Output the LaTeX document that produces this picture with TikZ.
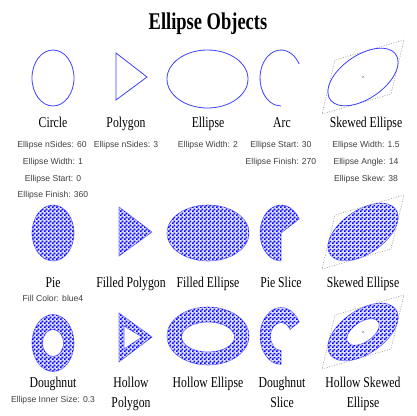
\documentclass[tikz,border=0pt]{standalone}
\usepackage{fontspec}
\setmainfont{Liberation Serif}
\setsansfont{Liberation Sans}
\usetikzlibrary{patterns}
\newcommand{\narrow}[1]{\scalebox{0.78}[1]{#1}}
% fine checkerboard
\pgfdeclarepatternformonly{finecheck}{\pgfpointorigin}{\pgfqpoint{4pt}{4pt}}{\pgfqpoint{4pt}{4pt}}{%
    \pgfpathrectangle{\pgfpointorigin}{\pgfqpoint{2pt}{2pt}}%
    \pgfpathrectangle{\pgfqpoint{2pt}{2pt}}{\pgfqpoint{2pt}{2pt}}%
    \pgfusepath{fill}}

\begin{document}
\begin{tikzpicture}[x=1pt, y=-1pt,
    headline/.style={font=\fontsize{24}{24}\selectfont\bfseries, anchor=base, inner sep=0pt},
    objname/.style={font=\fontsize{15}{20}\selectfont, anchor=base, inner sep=0pt},
    infotxt/.style={font=\sffamily\fontsize{8.6}{10}\selectfont, text=black!75, anchor=base, inner sep=0pt},
    outl/.style={draw=blue!75, line width=0.8pt},
    chk/.style={fill=blue!12, postaction={pattern=finecheck, pattern color=blue}, draw=blue!55, line width=0.6pt},
    hol/.style={chk, even odd rule},
    skewframe/.style={shift={#1}, x={(34.5pt,10pt)}, y={(6.5pt,27pt)}},
    bbox/.style={draw=black!45, dash pattern=on 1pt off 1.5pt, line width=0.5pt}]
    \useasboundingbox[fill=white] (0,0) rectangle (416,416);

    % Title
    \node[headline] (title) at (208,29) {\scalebox{0.77}[1]{Ellipse Objects}};

    % --- Row 1: outlines ---
    \draw[outl] (53,78) circle[x radius=21, y radius=28];
    \draw[outl] (116,53) -- (116,100) -- (147,77) -- cycle;
    \draw[outl] (207.5,79) circle[x radius=40.5, y radius=29];
    \draw[outl] (281,78) ++(-30:21 and 28) arc[start angle=-30, end angle=-270, x radius=21, y radius=28];
    \begin{scope}[skewframe={(363,77)}]
        \draw[bbox] (-1,-1) -- (1,-1) -- (1,1) -- (-1,1) -- cycle;
        \draw[outl] (0,0) circle[radius=1];
        \fill[black!50] (0,0) circle[radius=0.03];
    \end{scope}

    \node[objname] (circ) at (53,127) {\narrow{Circle}};
    \node[objname] (poly) at (126,127) {\narrow{Polygon}};
    \node[objname] (ell) at (208,127) {\narrow{Ellipse}};
    \node[objname] (arc) at (282,127) {\narrow{Arc}};
    \node[objname] (skew) at (366,127) {\narrow{Skewed Ellipse}};

    % Parameters
    \node[infotxt] (circA) at (52,147) {Ellipse nSides: 60};
    \node[infotxt] (circB) at (53,164) {Ellipse Width: 1};
    \node[infotxt] (circC) at (53,181) {Ellipse Start: 0};
    \node[infotxt] (circD) at (53,197) {Ellipse Finish: 360};
    \node[infotxt] (polyA) at (126,147) {Ellipse nSides: 3};
    \node[infotxt] (ellA) at (208,147) {Ellipse Width: 2};
    \node[infotxt] (arcA) at (281,147) {Ellipse Start: 30};
    \node[infotxt] (arcB) at (281,164) {Ellipse Finish: 270};
    \node[infotxt] (skewA) at (366,147) {Ellipse Width: 1.5};
    \node[infotxt] (skewB) at (366,164) {Ellipse Angle: 14};
    \node[infotxt] (skewC) at (366,181) {Ellipse Skew: 38};

    % --- Row 2: filled ---
    \draw[chk] (53,233) circle[x radius=21, y radius=28];
    \draw[chk] (119,207) -- (119,256) -- (152,232) -- cycle;
    \draw[chk] (208,233) circle[x radius=41, y radius=28];
    \draw[chk] (281,233) -- ++(-30:21 and 28) arc[start angle=-30, end angle=-270, x radius=21, y radius=28] -- cycle;
    \begin{scope}[skewframe={(363,232)}]
        \draw[bbox] (-1,-1) -- (1,-1) -- (1,1) -- (-1,1) -- cycle;
        \draw[chk] (0,0) circle[radius=1];
        \fill[black!50] (0,0) circle[radius=0.03];
    \end{scope}

    \node[objname] (pie) at (53,287) {\narrow{Pie}};
    \node[objname] (fpoly) at (131,287) {\narrow{Filled Polygon}};
    \node[objname] (fell) at (208,287) {\narrow{Filled Ellipse}};
    \node[objname] (slice) at (281,287) {\narrow{Pie Slice}};
    \node[objname] (fskew) at (363,287) {\narrow{Skewed Ellipse}};
    \node[infotxt] (pieA) at (53,301) {Fill Color: blue4};

    % --- Row 3: hollow ---
    \draw[hol] (53,343) circle[x radius=21, y radius=28.5] (53,343) circle[x radius=10.5, y radius=13.5];
    \draw[hol] (119,313) -- (119,362) -- (152,337) -- cycle (124,326) -- (124,349) -- (142,337) -- cycle;
    \draw[hol] (208,336) circle[x radius=41, y radius=29] (208,337) circle[x radius=26.5, y radius=15];
    \draw[chk] (281,336) ++(-30:21 and 28.5) arc[start angle=-30, end angle=-270, x radius=21, y radius=28.5]
        -- ++(0,-14) arc[start angle=-270, end angle=-30, x radius=10.5, y radius=14] -- cycle;
    \begin{scope}[skewframe={(363,332)}]
        \draw[bbox] (-1,-1) -- (1,-1) -- (1,1) -- (-1,1) -- cycle;
        \draw[hol] (0,0) circle[radius=1] (0,0) circle[radius=0.46];
        \fill[black!50] (0,0) circle[radius=0.03];
    \end{scope}

    \node[objname] (dough) at (53,387) {\narrow{Doughnut}};
    \node[infotxt] (doughA) at (53,402) {Ellipse Inner Size: 0.3};
    \node[objname] (hpolyA) at (131,387) {\narrow{Hollow}};
    \node[objname] (hpolyB) at (131,407) {\narrow{Polygon}};
    \node[objname] (hell) at (208,387) {\narrow{Hollow Ellipse}};
    \node[objname] (dsliceA) at (282,387) {\narrow{Doughnut}};
    \node[objname] (dsliceB) at (282,407) {\narrow{Slice}};
    \node[objname] (hskewA) at (363,387) {\narrow{Hollow Skewed}};
    \node[objname] (hskewB) at (363,407) {\narrow{Ellipse}};
\end{tikzpicture}
\end{document}
